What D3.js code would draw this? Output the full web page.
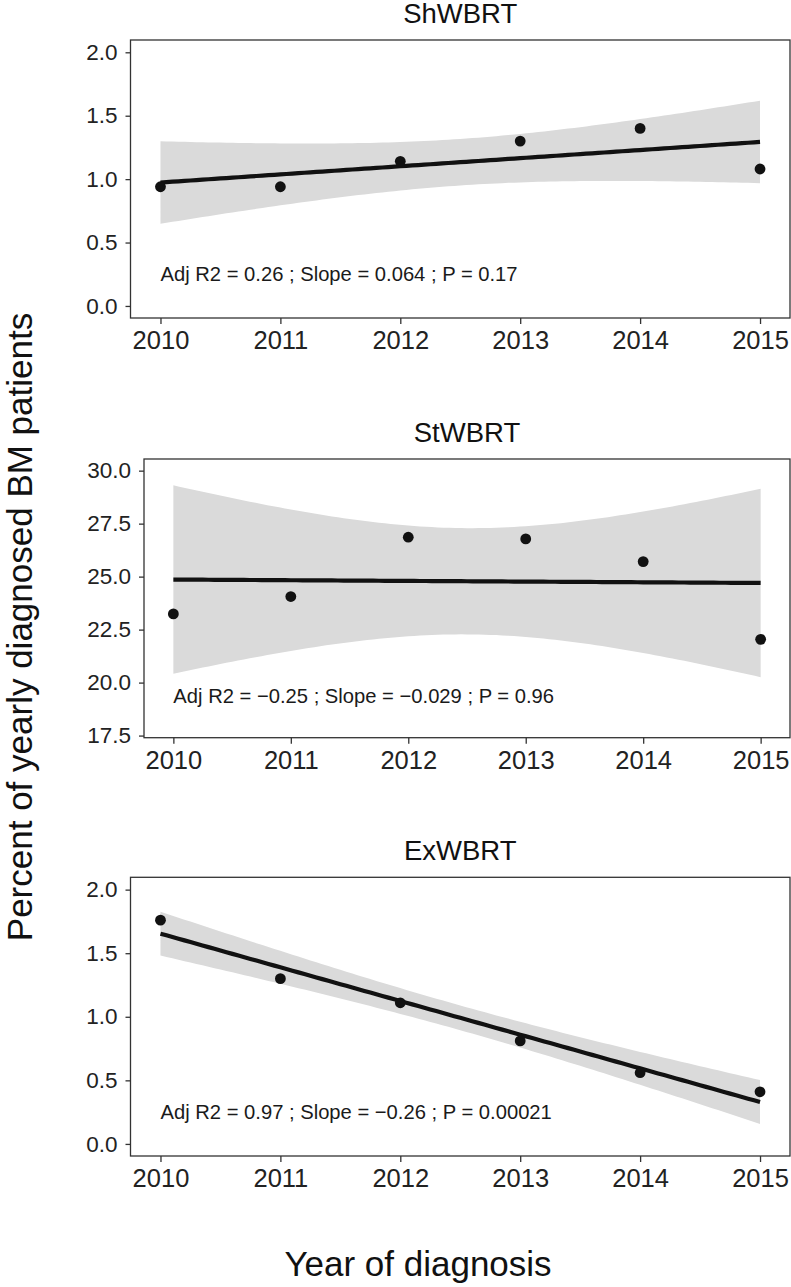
<!DOCTYPE html>
<html>
<head>
<meta charset="utf-8">
<script src="https://cdn.jsdelivr.net/npm/d3@7"></script>
<style>
  html, body { margin: 0; padding: 0; background: #fff; }
  svg { display: block; font-family: "Liberation Sans", Arial, Helvetica, sans-serif; }
</style>
</head>
<body>
<svg id="chart" width="791" height="1287"></svg>
<script>
// ---- data ----
const years = [2010, 2011, 2012, 2013, 2014, 2015];
const panelTitles = ["ShWBRT", "StWBRT", "ExWBRT"];
const shwbrtValues = [0.94, 0.94, 1.14, 1.30, 1.40, 1.08];
const stwbrtValues = [23.24, 24.06, 26.86, 26.78, 25.71, 22.04];
const exwbrtValues = [1.76, 1.30, 1.11, 0.81, 0.56, 0.41];
const statLabels = [
  "Adj R2 =  0.26 ; Slope = 0.064 ; P = 0.17",
  "Adj R2 =  \u22120.25 ; Slope = \u22120.029 ; P = 0.96",
  "Adj R2 =  0.97 ; Slope = \u22120.26 ; P = 0.00021"
];
const statLabelY = [0.25, 19.35, 0.25];
const yTicks1 = [0, 0.5, 1.0, 1.5, 2.0];
const yTicks2 = [17.5, 20.0, 22.5, 25.0, 27.5, 30.0];
const yTicks3 = [0, 0.5, 1.0, 1.5, 2.0];
const xLabel = "Year of diagnosis";
const yLabel = "Percent of yearly diagnosed BM patients";

// ---- layout ----
const panels = [
  { title: panelTitles[0], values: shwbrtValues, ticks: yTicks1, domain: [-0.095, 2.097], left: 130.5, top: 40, bottom: 318, stat: statLabels[0], statY: statLabelY[0] },
  { title: panelTitles[1], values: stwbrtValues, ticks: yTicks2, domain: [17.40, 30.55], left: 144, top: 459, bottom: 737.7, stat: statLabels[1], statY: statLabelY[1] },
  { title: panelTitles[2], values: exwbrtValues, ticks: yTicks3, domain: [-0.095, 2.097], left: 130.5, top: 877.3, bottom: 1156, stat: statLabels[2], statY: statLabelY[2] }
];
const right = 790;
const tCrit = 2.776; // t(0.975, df = 4)

const svg = d3.select("#chart");

function fit(xs, ys) {
  const n = xs.length;
  const mx = d3.mean(xs), my = d3.mean(ys);
  let sxx = 0, sxy = 0;
  xs.forEach((x, i) => { sxx += (x - mx) ** 2; sxy += (x - mx) * (ys[i] - my); });
  const b = sxy / sxx, a = my - b * mx;
  let sse = 0;
  xs.forEach((x, i) => { sse += (ys[i] - (a + b * x)) ** 2; });
  const s = Math.sqrt(sse / (n - 2));
  return { a, b, s, mx, sxx, n };
}

panels.forEach(p => {
  const x = d3.scaleLinear().domain([2009.75, 2015.25]).range([p.left, right]);
  const y = d3.scaleLinear().domain(p.domain).range([p.bottom, p.top]);
  const g = svg.append("g");

  const f = fit(years, p.values);
  const grid = d3.range(0, 101).map(i => 2010 + i * 0.05);
  const band = grid.map(xv => {
    const yh = f.a + f.b * xv;
    const se = f.s * Math.sqrt(1 / f.n + (xv - f.mx) ** 2 / f.sxx);
    return { x: xv, lo: yh - tCrit * se, hi: yh + tCrit * se, yh };
  });

  g.append("path")
    .datum(band)
    .attr("fill", "#dadada")
    .attr("d", d3.area().x(d => x(d.x)).y0(d => y(d.lo)).y1(d => y(d.hi)));

  g.append("path")
    .datum(band)
    .attr("fill", "none")
    .attr("stroke", "#111")
    .attr("stroke-width", 4.2)
    .attr("d", d3.line().x(d => x(d.x)).y(d => y(d.yh)));

  g.selectAll("circle")
    .data(years.map((yr, i) => ({ yr, v: p.values[i] })))
    .join("circle")
    .attr("cx", d => x(d.yr))
    .attr("cy", d => y(d.v))
    .attr("r", 5.4)
    .attr("fill", "#111");

  g.append("text")
    .attr("x", x(2010))
    .attr("y", y(p.statY) + 7)
    .attr("font-size", 20.2)
    .attr("fill", "#1a1a1a")
    .text(p.stat);

  // border
  g.append("rect")
    .attr("x", p.left).attr("y", p.top)
    .attr("width", right - p.left).attr("height", p.bottom - p.top)
    .attr("fill", "none").attr("stroke", "#333").attr("stroke-width", 1.3);

  // axes
  const xa = g.append("g").attr("transform", `translate(0,${p.bottom})`)
    .call(d3.axisBottom(x).tickValues(years).tickFormat(d3.format("d")).tickSize(6).tickPadding(7));
  xa.select(".domain").remove();
  xa.selectAll("line").attr("stroke", "#333").attr("stroke-width", 1.3);
  xa.selectAll("text").attr("font-size", 25.5).attr("fill", "#222").attr("font-family", "'Liberation Sans', Arial, sans-serif");

  const ya = g.append("g").attr("transform", `translate(${p.left},0)`)
    .call(d3.axisLeft(y).tickValues(p.ticks).tickFormat(d3.format(".1f")).tickSize(5).tickPadding(8));
  ya.select(".domain").remove();
  ya.selectAll("line").attr("stroke", "#333").attr("stroke-width", 1.3);
  ya.selectAll("text").attr("font-size", 22.5).attr("fill", "#222").attr("font-family", "'Liberation Sans', Arial, sans-serif");

  svg.append("text")
    .attr("x", (p.left + right) / 2)
    .attr("y", p.top - 17.5)
    .attr("text-anchor", "middle")
    .attr("font-size", 27.5)
    .attr("fill", "#111")
    .text(p.title);
});

svg.append("text")
  .attr("x", 418).attr("y", 1276)
  .attr("text-anchor", "middle")
  .attr("font-size", 35)
  .attr("fill", "#111")
  .text(xLabel);

svg.append("text")
  .attr("transform", "translate(32,627) rotate(-90)")
  .attr("text-anchor", "middle")
  .attr("font-size", 35)
  .attr("fill", "#111")
  .text(yLabel);
</script>
</body>
</html>
